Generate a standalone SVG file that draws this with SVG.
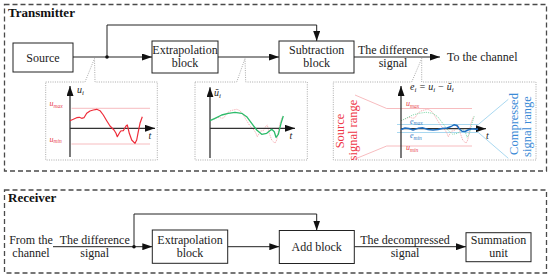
<svg xmlns="http://www.w3.org/2000/svg" xmlns:xlink="http://www.w3.org/1999/xlink" width="550" height="279" viewBox="0 0 550 279">
<style>
.frame{fill:none;stroke:#4a4a4a;stroke-width:1.3;stroke-dasharray:5 3}
.box{fill:#fff;stroke:#222;stroke-width:1}
.lbl{font-family:"Liberation Serif","Times New Roman",serif;font-size:12px;fill:#222;text-anchor:middle}
.title{font-family:"Liberation Serif","Times New Roman",serif;font-size:13px;font-weight:bold;fill:#111}
.conn{fill:none;stroke:#222;stroke-width:1}
.callout{fill:#fff;stroke:#a0a0a0;stroke-width:0.9;stroke-dasharray:1 1.3}
.axis{fill:none;stroke:#333;stroke-width:1.3}
.math{font-family:"Liberation Serif","Times New Roman",serif;font-style:italic;font-size:10px;fill:#222}
.mred{font-family:"Liberation Serif","Times New Roman",serif;font-style:italic;font-size:8px;fill:#e8404a}
.mblue{font-family:"Liberation Serif","Times New Roman",serif;font-style:italic;font-size:8px;fill:#2f7cc4}
.pinkline{stroke:#f6b4b8;stroke-width:0.9;fill:none}
.blueline{stroke:#9fd4ee;stroke-width:0.9;fill:none}
.redc{fill:none;stroke:#ee2d3a;stroke-width:1.2;stroke-linejoin:round}
.greenc{fill:none;stroke:#2dbb6a;stroke-width:1.3;stroke-linejoin:round}
.pinkdot{fill:none;stroke:#f3a0a6;stroke-width:0.9;stroke-dasharray:1.2 1}
.greendot{fill:none;stroke:#7fd8a8;stroke-width:0.9;stroke-dasharray:1.2 1}
.bluec{fill:none;stroke:#1f6fc0;stroke-width:1.4;stroke-linejoin:round}
.redtxt{font-family:"Liberation Serif","Times New Roman",serif;font-size:12.5px;fill:#ee3344;text-anchor:middle}
.bluetxt{font-family:"Liberation Serif","Times New Roman",serif;font-size:12.5px;fill:#3a8ad6;text-anchor:middle}
</style>
<defs>
<marker id="arr" viewBox="0 0 10 7" refX="10" refY="3.5" markerWidth="10" markerHeight="7" markerUnits="userSpaceOnUse" orient="auto">
<path d="M0,0 L10,3.5 L0,7 z" fill="#111"/>
</marker>
<marker id="axarr" viewBox="0 0 10 7" refX="10" refY="3.5" markerWidth="10" markerHeight="7" markerUnits="userSpaceOnUse" orient="auto">
<path d="M0,0 L10,3.5 L0,7 z" fill="#111"/>
</marker>
<polyline id="ucurve" points="70,120.7 73.3,119.3 76.7,117.7 79.3,117.3 81.7,118.3 84,117.7 86.7,113.3 90,111 93.3,110 96.7,109.3 100,110.7 103.3,115 106.7,120.7 110,126 114,130 116,133.3 117.3,136.7 119.3,133.3 120.7,131 123.3,130.7 126,126 127.3,125 129.3,133.3 131.7,140 135,143.3 136.7,140 138.3,131.7 140,123.3 142.3,116.7"/>
<polyline id="gcurve" points="210,120.7 215,118.3 221.7,115 228.3,113.3 235,112.3 241.7,113.3 246.7,116.7 251.7,123.3 256.7,130 261.7,134.3 266.7,133.3 271.7,129.3 274.3,131.7 276,137.3 278.3,134.3 281,123.3 283.3,116"/>
</defs>

<!-- frames -->
<rect class="frame" x="4.5" y="4.5" width="542" height="166.5"/>
<text class="title" x="8" y="17">Transmitter</text>
<rect class="frame" x="4.5" y="190" width="542" height="83"/>
<text class="title" x="8" y="202">Receiver</text>

<!-- connectors -->
<g id="connectors">
<line class="conn" x1="73" y1="57" x2="107" y2="57"/>
<line class="conn" x1="107" y1="57" x2="152" y2="57" marker-end="url(#arr)"/>
<polyline class="conn" points="107,57 107,25 316.7,25 316.7,41" marker-end="url(#arr)"/>
<circle cx="107" cy="57" r="1.8" fill="#111"/>
<line class="conn" x1="218" y1="57" x2="279" y2="57" marker-end="url(#arr)"/>
<line class="conn" x1="354" y1="57" x2="440" y2="57" marker-end="url(#arr)"/>

<line class="conn" x1="53" y1="246.7" x2="134" y2="246.7"/>
<line class="conn" x1="134" y1="246.7" x2="152.3" y2="246.7" marker-end="url(#arr)"/>
<polyline class="conn" points="134,246.7 134,214 316.7,214 316.7,230.5" marker-end="url(#arr)"/>
<circle cx="134" cy="246.7" r="1.8" fill="#111"/>
<line class="conn" x1="227.7" y1="246.7" x2="279.3" y2="246.7" marker-end="url(#arr)"/>
<line class="conn" x1="354.3" y1="246.7" x2="466" y2="246.7" marker-end="url(#arr)"/>
</g>

<!-- transmitter nodes -->
<g id="source">
<rect class="box" x="13" y="43" width="60" height="29"/>
<text class="lbl" x="43" y="61.5">Source</text>
</g>
<g id="extrapolation-tx">
<rect class="box" x="152" y="41" width="66" height="32"/>
<text class="lbl" x="185" y="53.5">Extrapolation</text>
<text class="lbl" x="185" y="66.5">block</text>
</g>
<g id="subtraction">
<rect class="box" x="279" y="41" width="75" height="32"/>
<text class="lbl" x="316.7" y="53.5">Subtraction</text>
<text class="lbl" x="316.7" y="66.5">block</text>
</g>
<g id="diff-label-tx">
<text class="lbl" x="393" y="53.5">The difference</text>
<text class="lbl" x="393" y="66.5">signal</text>
</g>
<g id="to-channel">
<text class="lbl" x="447" y="61" style="text-anchor:start">To the channel</text>
</g>

<!-- callout 1: u_i -->
<g id="chart-u">
<path class="callout" d="M45.7,82 H85 L94.5,58.5 L95,82 H157.3 V160 H45.7 Z"/>
<line class="pinkline" x1="71.5" y1="108.3" x2="150" y2="108.3"/>
<line class="pinkline" x1="71.5" y1="144" x2="150" y2="144"/>
<text class="mred" x="49.5" y="106">u<tspan font-size="5.5" dy="1.5">max</tspan></text>
<text class="mred" x="49.5" y="141.7">u<tspan font-size="5.5" dy="1.5">min</tspan></text>
<line class="axis" x1="70" y1="157" x2="70" y2="86" marker-end="url(#axarr)"/>
<line class="axis" x1="70" y1="128.3" x2="155" y2="128.3" marker-end="url(#axarr)"/>
<use xlink:href="#ucurve" class="redc"/>
<text class="math" x="77" y="93">u<tspan font-size="7" dy="2">i</tspan></text>
<text class="math" x="148.5" y="138.5">t</text>
</g>

<!-- callout 2: u~_i -->
<g id="chart-utilde">
<path class="callout" d="M195,82 H236.7 L245,58.5 L245.7,82 H307.3 V160 H195 Z"/>
<use xlink:href="#ucurve" class="pinkdot" transform="translate(140,0)"/>
<line class="axis" x1="210" y1="158" x2="210" y2="87.3" marker-end="url(#axarr)"/>
<line class="axis" x1="210" y1="128.3" x2="295" y2="128.3" marker-end="url(#axarr)"/>
<use xlink:href="#gcurve" class="greenc"/>
<text class="math" x="214" y="96">ũ<tspan font-size="7" dy="2">i</tspan></text>
<text class="math" x="289.5" y="139.3">t</text>
</g>

<!-- callout 3: e_i -->
<g id="chart-e">
<path class="callout" d="M333.3,82 H411.7 L421.7,58.5 V82 H536 V160 H333.3 Z"/>
<polyline class="pinkline" points="355,95 386.7,108.5 472,108.5"/>
<polyline class="pinkline" points="355,159 386.7,146 472,146"/>
<polyline class="blueline" points="508.3,99.3 478.3,124.5 397,124.5"/>
<polyline class="blueline" points="508.3,158.3 478.3,132.5 397,132.5"/>
<use xlink:href="#ucurve" class="pinkdot" transform="translate(331,0)"/>
<use xlink:href="#gcurve" class="greendot" transform="translate(191,0)"/>
<line class="axis" x1="401" y1="158" x2="401" y2="86" marker-end="url(#axarr)"/>
<line class="axis" x1="401" y1="128.7" x2="486" y2="128.7" marker-end="url(#axarr)"/>
<polyline class="bluec" points="401,129.5 405,128 409,128.5 413,130 418,128.3 423,127.8 428,129.5 433,130 438,129.5 442,128.5 447,128 451,126.5 454,124.8 457,125.5 459,128.5 462,131.2 465,131.5 468,130 472,128.8 476,129.2 478,129"/>
<text class="mred" x="406" y="106">u<tspan font-size="5.5" dy="1.5">max</tspan></text>
<text class="mred" x="406" y="150">u<tspan font-size="5.5" dy="1.5">min</tspan></text>
<text class="mblue" x="410" y="123.5">e<tspan font-size="5.5" dy="1.5">max</tspan></text>
<text class="mblue" x="410" y="138">e<tspan font-size="5.5" dy="1.5">min</tspan></text>
<text class="math" x="410" y="90">e<tspan font-size="7" dy="2">i</tspan><tspan dy="-2"> = u</tspan><tspan font-size="7" dy="2">i</tspan><tspan dy="-2"> − ũ</tspan><tspan font-size="7" dy="2">i</tspan></text>
<text class="math" x="486" y="139">t</text>
<text class="redtxt" transform="translate(344,131) rotate(-90)">Source</text>
<text class="redtxt" transform="translate(357,130) rotate(-90)">signal range</text>
<text class="bluetxt" transform="translate(518,124) rotate(-90)">Compressed</text>
<text class="bluetxt" transform="translate(531,126.5) rotate(-90)">signal range</text>
</g>

<!-- receiver nodes -->
<g id="from-channel">
<text class="lbl" x="31" y="244">From the</text>
<text class="lbl" x="31" y="257">channel</text>
</g>
<g id="diff-label-rx">
<text class="lbl" x="94.7" y="244">The difference</text>
<text class="lbl" x="94.7" y="257">signal</text>
</g>
<g id="extrapolation-rx">
<rect class="box" x="152.3" y="230" width="75.4" height="33.3"/>
<text class="lbl" x="190" y="244">Extrapolation</text>
<text class="lbl" x="190" y="257">block</text>
</g>
<g id="add-block">
<rect class="box" x="279.3" y="230.5" width="75" height="33"/>
<text class="lbl" x="316.7" y="251">Add block</text>
</g>
<g id="decompressed-label">
<text class="lbl" x="405" y="243.5">The decompressed</text>
<text class="lbl" x="405" y="256.5">signal</text>
</g>
<g id="summation">
<rect class="box" x="466" y="232.7" width="65" height="29"/>
<text class="lbl" x="498.5" y="244">Summation</text>
<text class="lbl" x="498.5" y="257">unit</text>
</g>
</svg>
